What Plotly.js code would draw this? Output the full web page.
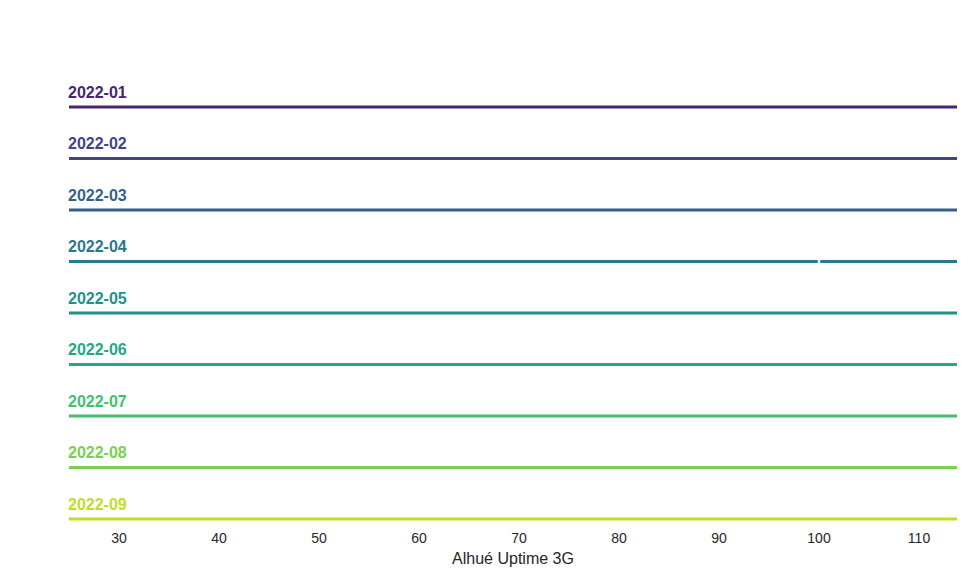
<!DOCTYPE html>
<html>
<head>
<meta charset="utf-8">
<script src="https://cdn.plot.ly/plotly-3.0.1.min.js"></script>
<style>html,body{margin:0;padding:0;background:#fff;}#chart{width:975px;height:585px;}</style>
</head>
<body>
<div id="chart"></div>
<script>
const months = ["2022-01","2022-02","2022-03","2022-04","2022-05","2022-06","2022-07","2022-08","2022-09"];
const colors = ["#482475","#414487","#355f8d","#2a788e","#21918c","#22a884","#44bf70","#7ad151","#bddf26"];
// Uptime values (all concentrated at 100%)
const uptime = [100,100,100,100,100,100,100,100,100];
// which months show a (very narrow) density spike outline
const hasSpike = [false,false,false,true,false,false,false,false,false];
const xTicks = [30,40,50,60,70,80,90,100,110];

const traces = [];
const shapes = [];
const annotations = [];
months.forEach((m, i) => {
  const off = -i;
  shapes.push({type:'line', xref:'paper', x0:0, x1:1, yref:'y', y0:off, y1:off,
    line:{color:colors[i], width:2.8}, layer:'below'});
  annotations.push({xref:'paper', x:0, yref:'y', y:off+0.29, text:'<b>'+m+'</b>',
    showarrow:false, xanchor:'left', yanchor:'middle', xshift:-2, borderpad:0,
    font:{family:'Arial, Liberation Sans, sans-serif', size:16, color:colors[i]}});
  if (hasSpike[i]) {
    traces.push({x:[uptime[i], uptime[i]], y:[off-0.07, off+0.07], mode:'lines',
      line:{color:'#ffffff', width:2.5}, hoverinfo:'skip', showlegend:false});
  }
});

const layout = {
  width:975, height:585,
  margin:{l:69, r:18, t:60, b:60},
  paper_bgcolor:'#fff', plot_bgcolor:'#fff',
  showlegend:false,
  xaxis:{range:[25,113.8], tickvals:xTicks, ticktext:xTicks.map(String),
    showgrid:false, zeroline:false, showline:false, ticks:'', ticklabelstandoff:3,
    tickfont:{family:'Arial, Liberation Sans, sans-serif', size:14, color:'#262626'},
    title:{text:'Alhué Uptime 3G', standoff:7, font:{family:'Arial, Liberation Sans, sans-serif', size:16, color:'#262626'}}},
  yaxis:{range:[-8.1165, 0.9126], showgrid:false, zeroline:false, showline:false,
    showticklabels:false, ticks:''},
  shapes:shapes, annotations:annotations
};
Plotly.newPlot('chart', traces, layout, {displayModeBar:false, staticPlot:true});
</script>
</body>
</html>
